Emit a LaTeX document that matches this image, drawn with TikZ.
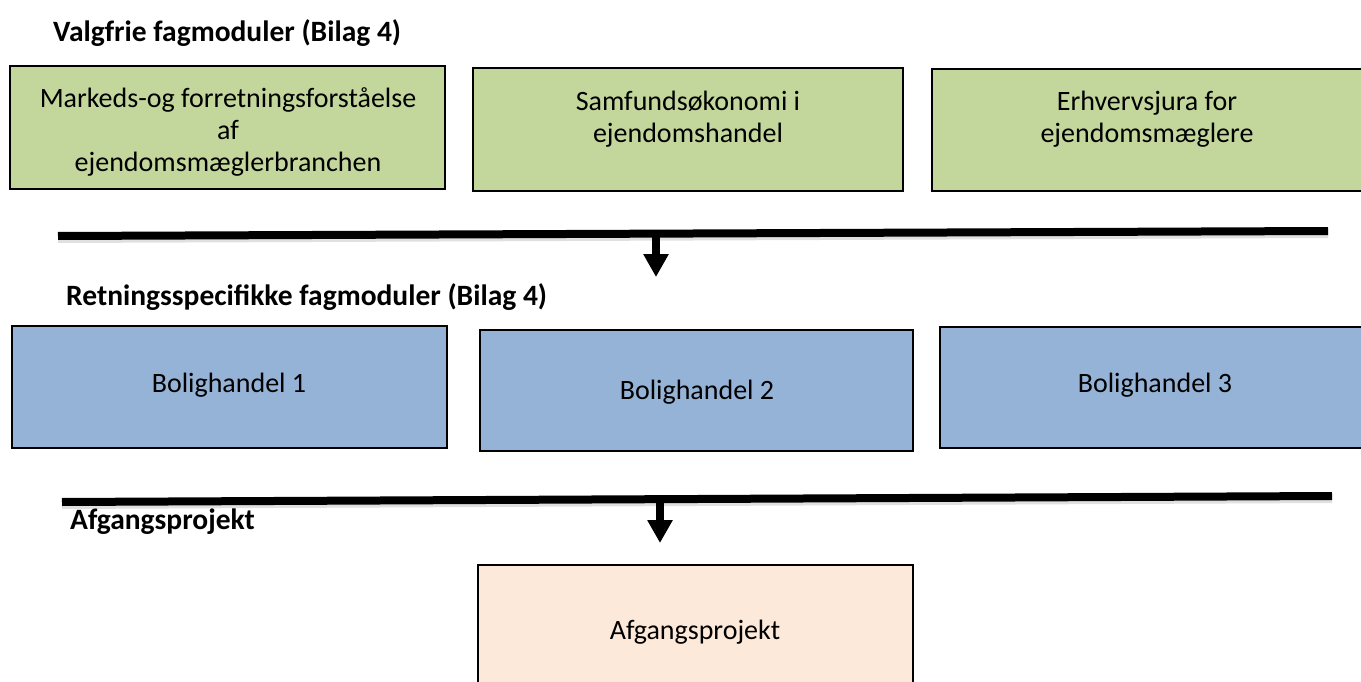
\documentclass[tikz,border=0pt]{standalone}
\usepackage{fontspec}
\setmainfont{Carlito}
\usetikzlibrary{arrows.meta}
\definecolor{boxgreen}{HTML}{C3D69B}
\definecolor{boxblue}{HTML}{95B3D7}
\definecolor{boxpeach}{HTML}{FDE9D9}
\tikzset{
  modbox/.style={draw=black, line width=1.8pt, rectangle, inner sep=0pt},
  boxtext/.style={inner sep=0pt, align=center, font=\fontsize{28}{32}\selectfont},
  heading/.style={inner sep=0pt, anchor=west, font=\fontsize{29.5}{34}\selectfont\bfseries},
  barline/.style={line width=8pt, line cap=butt},
  barshadow/.style={line width=8pt, black, opacity=0.12},
  downarrow/.style={line width=8pt, -{Triangle[length=23pt,width=24pt]}}
}
\begin{document}
\begin{tikzpicture}[x=1pt,y=-1pt]
\useasboundingbox (0,0) rectangle (1361,682);
\fill[white] (0,0) rectangle (1361,682);

% headings
\node[heading] (h1) at (53,33) {Valgfrie fagmoduler (Bilag 4)};
\node[heading] (h2) at (66,297) {Retningsspecifikke fagmoduler (Bilag 4)};
\node[heading] (h3) at (70,522) {Afgangsprojekt};

% green boxes
\draw[modbox, fill=boxgreen] (10,66) rectangle (445,189);
\draw[modbox, fill=boxgreen] (473,68) rectangle (903,191);
\draw[modbox, fill=boxgreen] (932,69) rectangle (1370,191);
\node[boxtext] (g1) at (228,132) {Markeds-og forretningsforståelse\\af\\ejendomsmæglerbranchen};
\node[boxtext] (g2) at (688,119) {Samfundsøkonomi i\\ejendomshandel};
\node[boxtext] (g3) at (1147,119) {Erhvervsjura for\\ejendomsmæglere};

% bar 1 and arrow
\coordinate (L1a) at (58,236);
\coordinate (L1b) at (1328,231);
\draw[barshadow] ([yshift=-3pt]L1a) -- ([yshift=-3pt]L1b);
\draw[barline] (L1a) -- (L1b);
\coordinate (A1s) at (656,232);
\coordinate (A1e) at (656,277);
\draw[downarrow] (A1s) -- (A1e);

% blue boxes
\draw[modbox, fill=boxblue] (12,326) rectangle (447,448);
\draw[modbox, fill=boxblue] (480,330) rectangle (913,451);
\draw[modbox, fill=boxblue] (940,327) rectangle (1370,448);
\node[boxtext] (b1) at (229,385) {Bolighandel 1};
\node[boxtext] (b2) at (697,392) {Bolighandel 2};
\node[boxtext] (b3) at (1155,385) {Bolighandel 3};

% bar 2 and arrow
\coordinate (L2a) at (62,502);
\coordinate (L2b) at (1332,496);
\draw[barshadow] ([yshift=-3pt]L2a) -- ([yshift=-3pt]L2b);
\draw[barline] (L2a) -- (L2b);
\coordinate (A2s) at (660,498);
\coordinate (A2e) at (660,543);
\draw[downarrow] (A2s) -- (A2e);

% final box
\draw[modbox, fill=boxpeach] (478,565) rectangle (913,690);
\node[boxtext] (p1) at (695,632) {Afgangsprojekt};
\end{tikzpicture}
\end{document}
